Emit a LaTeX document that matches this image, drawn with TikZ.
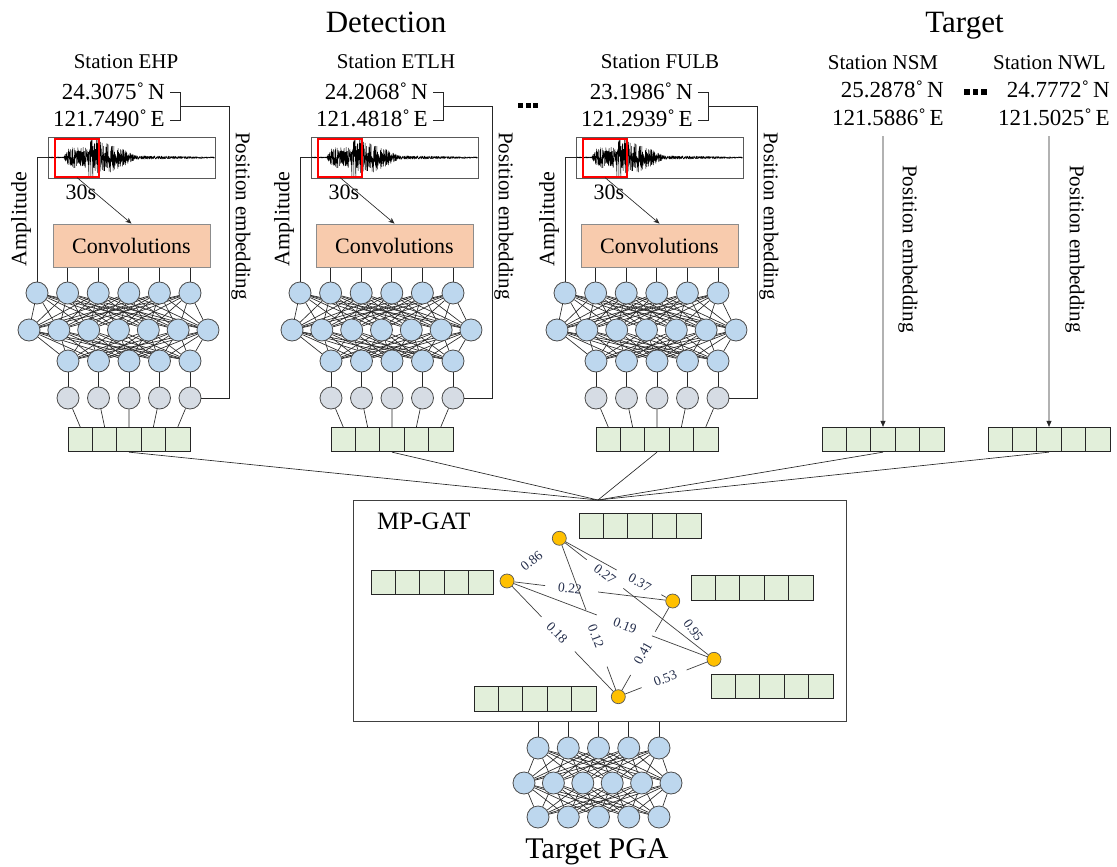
\documentclass[tikz,border=0pt]{standalone}
\usepackage{fontspec}
\setmainfont{Liberation Serif}
\usetikzlibrary{arrows.meta,calc}
\pgfdeclarelayer{paper}
\pgfdeclarelayer{bg}
\pgfsetlayers{paper,bg,main}
\definecolor{nblue}{HTML}{BDD7EE}
\definecolor{ngrey}{HTML}{D6DCE4}
\definecolor{vgreen}{HTML}{E2EFDA}
\definecolor{convc}{HTML}{F8CBAD}
\definecolor{goldn}{HTML}{FFC000}
\definecolor{wlab}{RGB}{35,45,75}
\definecolor{winred}{HTML}{FF0000}
\newcommand\Fsz[1]{\fontsize{#1pt}{#1pt}\selectfont}

\tikzset{
 neuron/.style={circle,draw=black!70,line width=0.8pt,fill=nblue,minimum size=22pt,inner sep=0pt},
 gneuron/.style={neuron,fill=ngrey},
 cell/.style={rectangle,draw=black!85,line width=0.8pt,fill=vgreen,minimum width=24.4pt,minimum height=24.5pt,inner sep=0pt},
 wire/.style={line width=0.65pt,draw=black!85},
 gatwire/.style={line width=0.7pt,draw=black!75},
 gatnode/.style={circle,draw=black!65,line width=0.7pt,fill=goldn,minimum size=14pt,inner sep=0pt},
 gatlabel/.style={font=\Fsz{13.5},text=wlab,inner sep=1pt},
 coordtxt/.style={font=\Fsz{23},anchor=base east,inner sep=0pt},
 stlabel/.style={font=\Fsz{21},anchor=base,inner sep=0pt},
 pembed/.style={rotate=-90,font=\Fsz{21},inner sep=0pt},
 arrowA/.style={-{Stealth[length=6pt,width=5pt]}},
 arrowB/.style={-{Triangle[length=6pt,width=5pt]}},
}

\newcommand\VecRow[3]{\foreach \kk in {1,...,5}{\node[cell] (#1-\kk) at ({#2+12.2+24.4*(\kk-1)},#3) {};}}

\newcommand\DetBlock[6]{%
\begin{scope}[xshift=#1pt]
\node[stlabel] (st#2) at (#6,69) {Station #3};
\node[coordtxt] (lat#2) at (165,99.5) {#4˚\,N};
\node[coordtxt] (lon#2) at (165,126.5) {#5˚\,E};
\coordinate (tn#2) at (170,92);
\coordinate (te#2) at (170,120.5);
\coordinate (pm#2) at (180,106.5);
\coordinate (pc#2) at (229,106.5);
\draw[wire] (tn#2) -- ++(10,0) |- (te#2);
\node[draw=black!65,line width=0.8pt,minimum width=167pt,minimum height=41pt,inner sep=0pt] (wv#2) at (131.5,157.5) {};
\pgfmathsetseed{4242}
\draw[line width=0.45pt,black,line join=round] plot[domain=0:166,samples=900,variable=\w] ({48.5+\w},{157.5+wenv(\w)*rand});
\node[draw=winred,line width=1.1pt,minimum width=44pt,minimum height=38pt,inner sep=0pt] (win#2) at (77,158) {};
\node[font=\Fsz{22},anchor=base,inner sep=0pt] (ts#2) at (81,199) {30s};
\node[draw=black!45,line width=0.8pt,fill=convc,minimum width=157pt,minimum height=43pt,inner sep=0pt,font=\Fsz{22}] (cv#2) at (131.5,245.5) {Convolutions};
\draw[wire,arrowA] (win#2.south) -- (cv#2.north);
\node[rotate=90,font=\Fsz{22},inner sep=0pt] (amp#2) at (21,219) {Amplitude};
\node[pembed] (pe#2) at (241,216) {Position embedding};
\foreach \kk in {1,...,6}{\node[neuron] (n#2-1-\kk) at ({37+30.6*(\kk-1)},293) {};}
\foreach \kk in {1,...,7}{\node[neuron] (n#2-2-\kk) at ({29+29.83*(\kk-1)},330) {};}
\foreach \kk in {1,...,5}{\node[neuron] (n#2-3-\kk) at ({68+30.5*(\kk-1)},361) {};}
\foreach \kk in {1,...,5}{\node[gneuron] (n#2-4-\kk) at ({68+30.5*(\kk-1)},398) {};}
\VecRow{v#2}{68}{439.5}
\begin{pgfonlayer}{bg}
\foreach \ii in {1,...,6}{\foreach \jj in {1,...,7}{\draw[wire] (n#2-1-\ii) -- (n#2-2-\jj);}}
\foreach \ii in {1,...,7}{\foreach \jj in {1,...,5}{\draw[wire] (n#2-2-\ii) -- (n#2-3-\jj);}}
\foreach \kk in {1,...,5}{\draw[wire] (n#2-3-\kk) -- (n#2-4-\kk); \draw[wire] (n#2-4-\kk) -- (v#2-\kk.north);}
\foreach \kk in {2,...,6}{\draw[wire] (n#2-1-\kk) -- (n#2-1-\kk |- cv#2.south);}
\end{pgfonlayer}
\draw[wire] (wv#2.west) -| (n#2-1-1);
\draw[wire] (pm#2) -- (pc#2) |- (n#2-4-5);
\end{scope}}

\newcommand\GEdge[6]{\draw[gatwire] (#1) -- ($(#1)!#3!(#2)$); \draw[gatwire] ($(#1)!#4!(#2)$) -- (#2); \path (#1.center) -- (#2.center) node[pos=#5,sloped,gatlabel] {#6};}
\newcommand\GLab[4]{\path (#1.center) -- (#2.center) node[pos=#3,sloped,gatlabel] {#4};}

\begin{document}
\begin{tikzpicture}[x=1pt,y=-1pt,
 declare function={wenv(\w)=1.15*ifthenelse(\w<15,0.5,ifthenelse(\w<21,0.5+(\w-15)*1.4,ifthenelse(\w<40,9,ifthenelse(\w<52,17,ifthenelse(\w<64,13,ifthenelse(\w<87,12-(\w-64)*0.43,1.6-(\w-87)*0.012))))));}]
\useasboundingbox (0,0) rectangle (1117,867);
\begin{pgfonlayer}{paper}
\fill[white] (0,0) rectangle (1117,867);
\end{pgfonlayer}
\node[font=\Fsz{31},anchor=base,inner sep=0pt] (det) at (386,33) {Detection};
\node[font=\Fsz{31},anchor=base,inner sep=0pt] (tgt) at (964.5,33) {Target};
\node[draw=black!75,line width=0.9pt,minimum width=493pt,minimum height=221pt,inner sep=0pt] (gat) at (599.5,610.5) {};
\coordinate (hub) at (598,500);

\DetBlock{0}{1}{EHP}{24.3075}{121.7490}{126}
\DetBlock{263}{2}{ETLH}{24.2068}{121.4818}{133}
\DetBlock{528}{3}{FULB}{23.1986}{121.2939}{132}

\foreach \kk in {0,1,2}{\fill (518+7.5*\kk,103) rectangle ++(5.2,5.2);}
\foreach \kk in {0,1,2}{\fill (964+8.5*\kk,89.5) rectangle ++(5.6,5.6);}

% targets
\node[stlabel] (stT1) at (883,69.5) {Station NSM};
\node[coordtxt] (latT1) at (944,98) {25.2878˚\,N};
\node[coordtxt] (lonT1) at (944,125) {121.5886˚\,E};
\VecRow{vT1}{822}{439.5}
\coordinate (srcT1) at (883,136);
\draw[wire,arrowB] (srcT1) -- (vT1-3.north);
\node[pembed] (peT1) at (908,249) {Position embedding};

\node[stlabel] (stT2) at (1049.5,69.5) {Station NWL};
\node[coordtxt] (latT2) at (1110,98) {24.7772˚\,N};
\node[coordtxt] (lonT2) at (1110,125) {121.5025˚\,E};
\VecRow{vT2}{988}{439.5}
\coordinate (srcT2) at (1049,136);
\draw[wire,arrowB] (srcT2) -- (vT2-3.north);
\node[pembed] (peT2) at (1075,249) {Position embedding};

\foreach \nm in {v1,v2,v3,vT1,vT2}{\draw[wire] (\nm-3.south) -- (hub);}

% MP-GAT
\node[font=\Fsz{25},anchor=base west,inner sep=0pt] (gatlab) at (377,529) {MP-GAT};
\VecRow{g1}{579}{526}
\VecRow{g2}{371}{582.5}
\VecRow{g3}{691}{588}
\VecRow{g4}{474}{699}
\VecRow{g5}{711}{686.5}
\node[gatnode] (A) at (507,581) {};
\node[gatnode] (B) at (559.3,538.3) {};
\node[gatnode] (C) at (672.7,601) {};
\node[gatnode] (D) at (714,659.3) {};
\node[gatnode] (E) at (618.3,696.7) {};
\GLab{A}{B}{0.47}{0.86}
\GEdge{A}{C}{0.23}{0.55}{0.38}{0.22}
\GEdge{A}{D}{0.434}{0.70}{0.57}{0.19}
\GEdge{A}{E}{0.31}{0.61}{0.45}{0.18}
\GEdge{B}{C}{0.506}{0.90}{0.71}{0.37}
\GEdge{B}{D}{0.177}{0.414}{0.295}{0.27}
\GEdge{B}{E}{0.453}{0.81}{0.62}{0.12}
\GLab{C}{D}{0.5}{0.95}
\GEdge{C}{E}{0.32}{0.773}{0.547}{0.41}
\GEdge{E}{D}{0.244}{0.714}{0.49}{0.53}

% output network
\foreach \kk in {1,...,5}{\node[neuron] (o1-\kk) at ({538+30.25*(\kk-1)},748) {};}
\foreach \kk in {1,...,6}{\node[neuron] (o2-\kk) at ({524+29.4*(\kk-1)},783) {};}
\foreach \kk in {1,...,5}{\node[neuron] (o3-\kk) at ({538+30.25*(\kk-1)},817) {};}
\begin{pgfonlayer}{bg}
\foreach \ii in {1,...,5}{\foreach \jj in {1,...,6}{\draw[wire] (o1-\ii) -- (o2-\jj); \draw[wire] (o2-\jj) -- (o3-\ii);}}
\foreach \kk in {1,...,5}{\draw[wire] (o1-\kk) -- (o1-\kk |- gat.south);}
\end{pgfonlayer}
\node[font=\Fsz{30},anchor=base,inner sep=0pt] (pga) at (597,858) {Target PGA};
\end{tikzpicture}
\end{document}
